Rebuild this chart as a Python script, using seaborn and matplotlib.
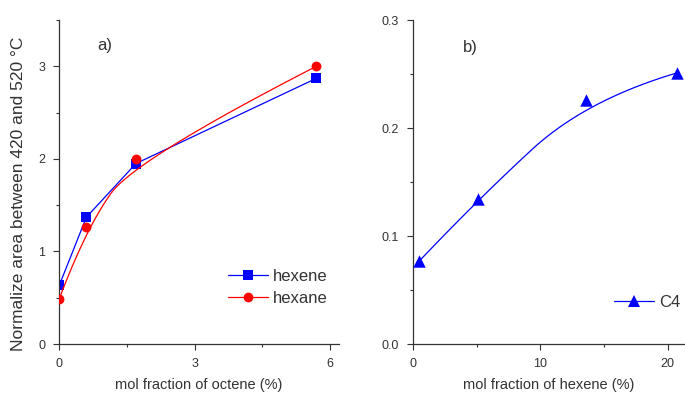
import numpy as np
import pandas as pd
import seaborn as sns
import matplotlib
matplotlib.use("Agg")
import matplotlib.pyplot as plt
from matplotlib.lines import Line2D
from matplotlib.ticker import MultipleLocator

# ---- data ----
octene_x = [0.0, 0.6, 1.7, 5.7]
hexene_y = [0.635, 1.37, 1.95, 2.87]
hexane_y = [0.49, 1.26, 2.0, 3.0]

hexene_frac = [0.5, 5.1, 13.55, 20.7]
c4_y = [0.077, 0.134, 0.226, 0.251]

xticks_a = [0, 3, 6]
yticks_a = [0, 1, 2, 3]
xticks_b = [0, 10, 20]
yticks_b = [0.0, 0.1, 0.2, 0.3]


def bspline2(xs, ys, n=60):
    """Clamped quadratic B-spline using the data points as control points."""
    P = np.column_stack([xs, ys]).astype(float)
    m = len(P) - 1
    J = [P[0]] + [(P[k] + P[k + 1]) / 2 for k in range(1, m - 1)] + [P[m]]
    t = np.linspace(0, 1, n)[:, None]
    segs = []
    for k in range(1, m):
        A, C, B = J[k - 1], P[k], J[k]
        segs.append((1 - t) ** 2 * A + 2 * t * (1 - t) * C + t ** 2 * B)
    curve = np.vstack(segs)
    return pd.DataFrame({"x": curve[:, 0], "y": curve[:, 1]})


sns.set_theme(style="ticks")
plt.rcParams['font.family'] = ['Liberation Sans', 'DejaVu Sans']

fig = plt.figure(figsize=(6.85, 3.96), dpi=100)
ax1 = fig.add_axes([0.0866, 0.1313, 0.408, 0.818])
ax2 = fig.add_axes([0.603, 0.1313, 0.396, 0.818])

BLUE = "#0000ff"
RED = "#ff0000"
TXT = "#333333"

# panel a
df_a = pd.DataFrame({"x": octene_x, "hexene": hexene_y, "hexane": hexane_y})
sns.lineplot(data=df_a, x="x", y="hexene", ax=ax1, color=BLUE, lw=0.9,
             marker="s", markersize=6.5, markeredgewidth=0, markeredgecolor=BLUE)
sns.lineplot(data=bspline2(octene_x, hexane_y), x="x", y="y", ax=ax1,
             color=RED, lw=0.9, sort=False)
sns.scatterplot(data=df_a, x="x", y="hexane", ax=ax1, color=RED, marker="o",
                s=50, linewidth=0, zorder=5)

ax1.set_xlim(0, 6.2)
ax1.set_ylim(0, 3.5)
ax1.set_xticks(xticks_a)
ax1.set_yticks(yticks_a)
ax1.xaxis.set_minor_locator(MultipleLocator(1.5))
ax1.yaxis.set_minor_locator(MultipleLocator(0.5))
ax1.set_xlabel("mol fraction of octene (%)", fontsize=10.5, color=TXT, labelpad=6)
ax1.set_ylabel("Normalize area between 420 and 520 °C", fontsize=12.5, color=TXT)
ax1.yaxis.set_label_coords(-0.12, 0.465)
ax1.text(0.84, 3.22, "a)", fontsize=12, color=TXT, va="center")
h1 = Line2D([], [], color=BLUE, lw=0.9, marker="s", markersize=6.5, markeredgewidth=0)
h2 = Line2D([], [], color=RED, lw=0.9, marker="o", markersize=7, markeredgewidth=0)
ax1.legend([h1, h2], ["hexene", "hexane"], loc="lower right", bbox_to_anchor=(1.015, 0.07),
           frameon=False, fontsize=12, handlelength=2.4, handletextpad=0.3,
           labelspacing=0.45, labelcolor=TXT)

# panel b
df_b = pd.DataFrame({"x": hexene_frac, "y": c4_y})
sns.lineplot(data=bspline2(hexene_frac, c4_y), x="x", y="y", ax=ax2,
             color=BLUE, lw=0.9, sort=False)
sns.scatterplot(data=df_b, x="x", y="y", ax=ax2, color=BLUE, marker="^",
                s=80, linewidth=0, zorder=5)
ax2.set_xlim(0, 21.3)
ax2.set_ylim(0, 0.3)
ax2.set_xticks(xticks_b)
ax2.set_yticks(yticks_b)
ax2.set_yticklabels([f"{v:.1f}" for v in yticks_b])
ax2.xaxis.set_minor_locator(MultipleLocator(5))
ax2.yaxis.set_minor_locator(MultipleLocator(0.05))
ax2.set_xlabel("mol fraction of hexene (%)", fontsize=10.5, color=TXT, labelpad=6)
ax2.set_ylabel("")
ax2.text(3.9, 0.275, "b)", fontsize=12, color=TXT, va="center")
h3 = Line2D([], [], color=BLUE, lw=0.9, marker="^", markersize=8, markeredgewidth=0)
ax2.legend([h3], ["C4"], loc="lower right", bbox_to_anchor=(1.04, 0.06),
           frameon=False, fontsize=12, handlelength=2.4, handletextpad=0.3,
           labelcolor=TXT)

for ax in (ax1, ax2):
    sns.despine(ax=ax)
    for s in ("left", "bottom"):
        ax.spines[s].set_color(TXT)
        ax.spines[s].set_linewidth(0.9)
    ax.tick_params(which="major", direction="out", length=4, width=0.8,
                   colors=TXT, labelsize=9, pad=6)
    ax.tick_params(which="minor", direction="out", length=2.5, width=0.8, colors=TXT)

fig.savefig("out.png", dpi=100)
